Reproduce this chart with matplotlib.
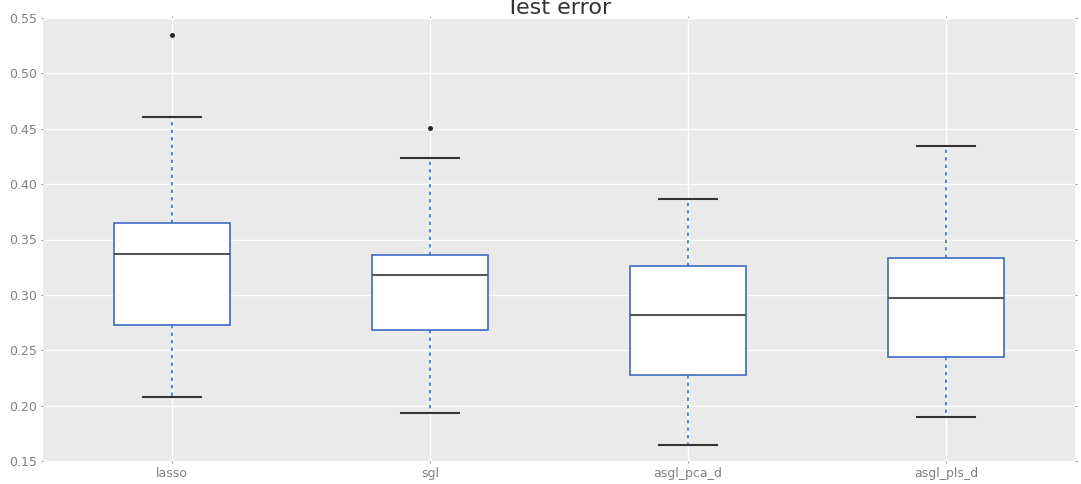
import matplotlib
matplotlib.use("Agg")
import matplotlib.pyplot as plt

categories = ["lasso", "sgl", "asgl_pca_d", "asgl_pls_d"]
whislo = [0.208, 0.193, 0.164, 0.190]
q1 = [0.273, 0.268, 0.228, 0.244]
med = [0.337, 0.318, 0.282, 0.297]
q3 = [0.365, 0.336, 0.326, 0.333]
whishi = [0.461, 0.424, 0.387, 0.434]
fliers = [[0.535], [0.451], [], []]

stats = []
for i, name in enumerate(categories):
    stats.append(dict(label=name, whislo=whislo[i], q1=q1[i], med=med[i],
                      q3=q3[i], whishi=whishi[i], fliers=fliers[i]))

fig = plt.figure(figsize=(10.81, 4.84), dpi=100)
ax = fig.add_axes([43/1081, 1-461/484, (1075-43)/1081, (461-18)/484])
ax.set_facecolor("#EAEAEA")
ax.set_axisbelow(True)
ax.grid(True, color="white", linewidth=1.0)
for s in ax.spines.values():
    s.set_visible(False)

blue = "#3D6BC0"
ax.bxp(stats, positions=range(1, len(categories)+1), widths=0.45,
       patch_artist=True,
       boxprops=dict(facecolor="white", edgecolor=blue, linewidth=1.2),
       whiskerprops=dict(color=blue, linestyle=(0, (2, 2.5)), linewidth=1.2),
       capprops=dict(color="#333333", linewidth=1.5),
       medianprops=dict(color="#555555", linewidth=1.5),
       flierprops=dict(marker="o", markersize=2.5, markerfacecolor="#222222",
                       markeredgecolor="#222222"))

ax.set_xlim(0.5, 4.5)
ax.set_ylim(0.15, 0.55)
ax.set_yticks([0.15, 0.20, 0.25, 0.30, 0.35, 0.40, 0.45, 0.50, 0.55])
ax.set_yticklabels(["%.2f" % v for v in ax.get_yticks()])
ax.tick_params(axis="both", which="both", direction="out", length=1.5,
               color="#999999", labelcolor="#808080", labelsize=9,
               top=True, right=True, pad=3)
ax.set_title("Test error", fontsize=16, color="#333333", pad=3)

fig.savefig("out.png", dpi=100)
